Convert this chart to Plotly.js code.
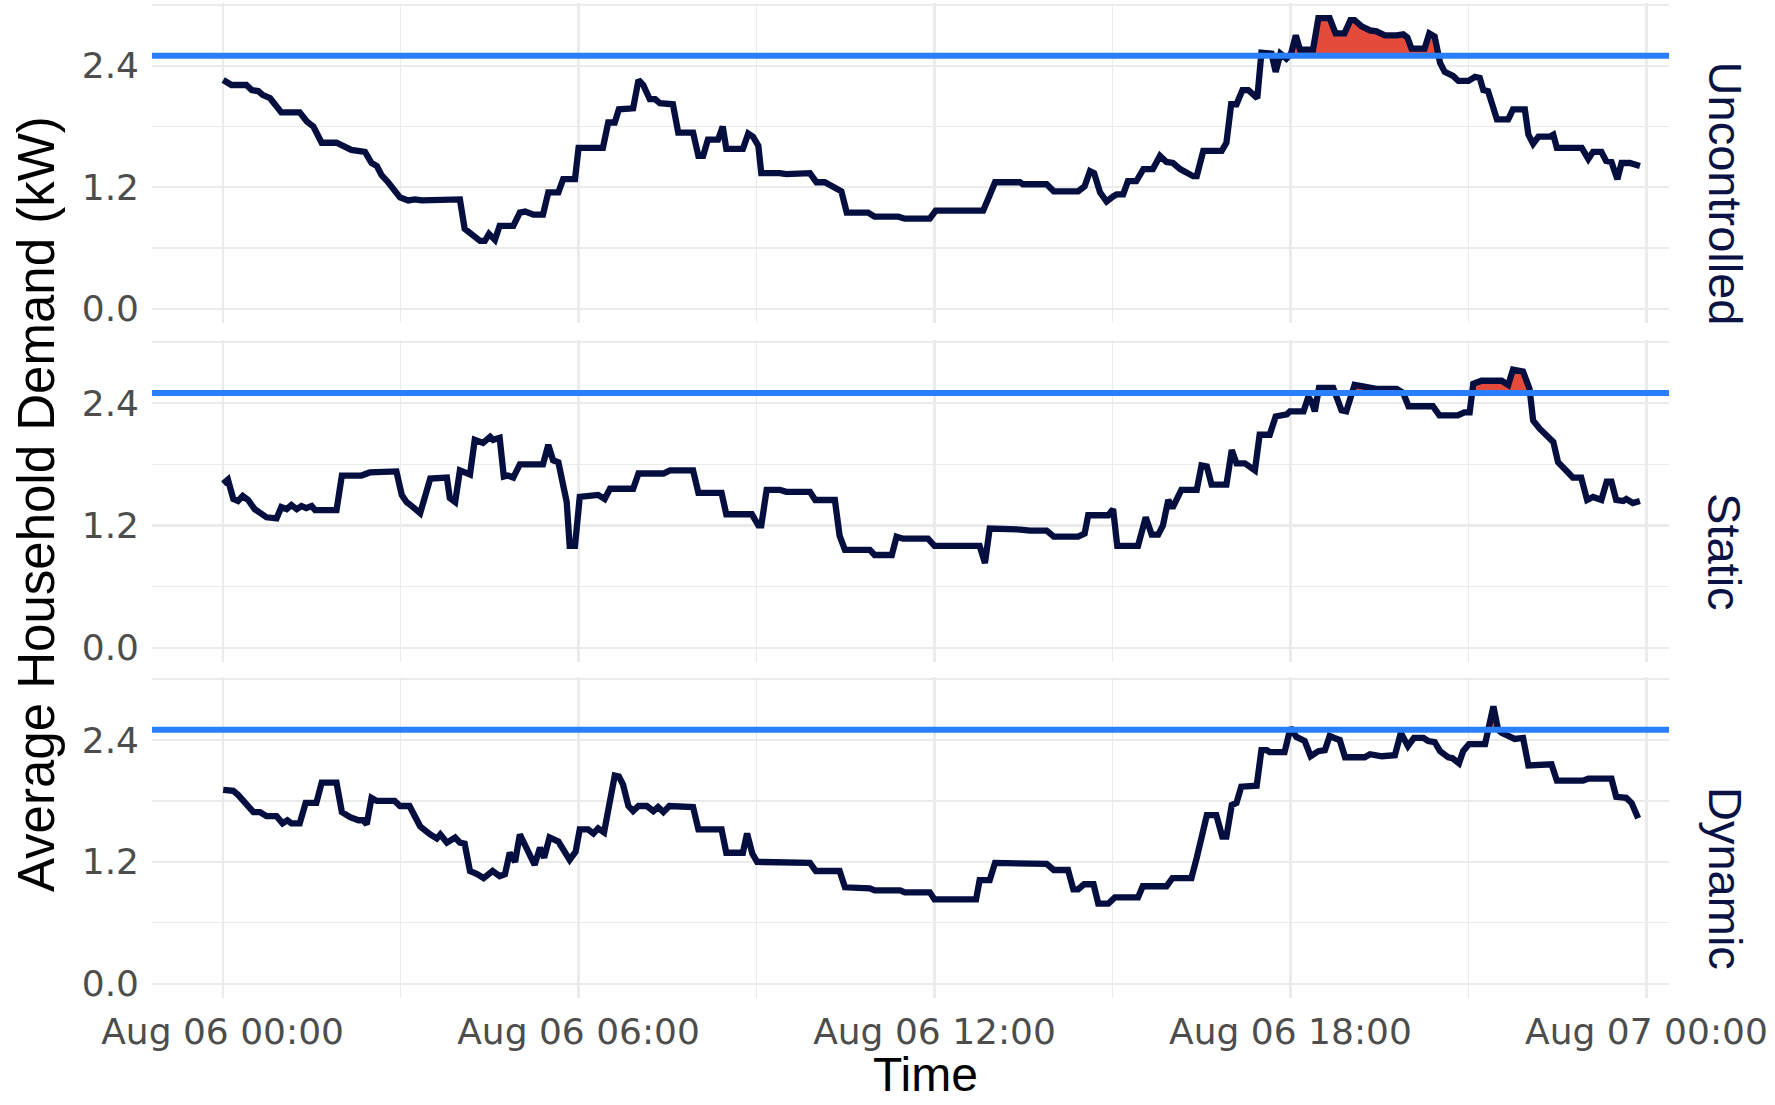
<!DOCTYPE html>
<html>
<head>
<meta charset="utf-8">
<script src="https://cdn.plot.ly/plotly-3.0.1.min.js"></script>
<style>
  html, body { margin: 0; padding: 0; background: #ffffff; }
  #chart { width: 1775px; height: 1105px; }
</style>
</head>
<body>
<div id="chart"></div>
<script>
// Network capacity limit per household (kW)
const threshold = 2.5;

// Facet names, top to bottom
const scenarios = ['Uncontrolled', 'Static', 'Dynamic'];

// Hour of day (Aug 06) and average household demand (kW) for each scenario
const hoursUncontrolled = [0.01,0.15,0.40,0.49,0.60,0.68,0.80,0.88,0.99,1.30,1.42,1.53,1.67,1.92,2.17,2.40,2.51,2.60,2.68,2.79,2.99,3.13,3.24,3.36,3.50,4.00,4.08,4.20,4.34,4.42,4.49,4.59,4.67,4.90,5.01,5.10,5.24,5.40,5.49,5.66,5.74,5.94,6.00,6.41,6.50,6.61,6.68,6.92,7.01,7.09,7.20,7.29,7.37,7.59,7.68,7.93,8.02,8.10,8.18,8.35,8.43,8.49,8.77,8.86,8.94,9.03,9.08,9.39,9.50,9.90,10.01,10.15,10.29,10.43,10.52,10.88,10.99,11.39,11.50,11.92,12.02,12.82,12.90,13.02,13.44,13.49,13.89,14.01,14.42,14.53,14.62,14.69,14.79,14.90,15.01,15.07,15.18,15.26,15.40,15.52,15.68,15.80,15.91,16.02,16.14,16.36,16.42,16.53,16.84,16.92,17.00,17.09,17.19,17.29,17.44,17.51,17.68,17.75,17.83,17.93,18.01,18.09,18.16,18.38,18.47,18.66,18.76,18.91,19.01,19.08,19.20,19.34,19.45,19.59,19.79,19.90,19.97,20.04,20.26,20.34,20.43,20.52,20.60,20.74,20.83,21.00,21.11,21.19,21.25,21.33,21.48,21.67,21.75,21.95,22.01,22.09,22.18,22.37,22.43,22.49,22.91,23.02,23.10,23.24,23.32,23.41,23.51,23.58,23.72,23.80,23.89];
const demandUncontrolled = [2.26,2.21,2.21,2.16,2.15,2.11,2.08,2.02,1.94,1.94,1.85,1.80,1.64,1.64,1.57,1.55,1.44,1.41,1.32,1.25,1.10,1.07,1.08,1.07,1.07,1.08,0.79,0.74,0.67,0.67,0.74,0.68,0.82,0.82,0.95,0.96,0.93,0.93,1.15,1.15,1.28,1.28,1.59,1.59,1.84,1.84,1.97,1.98,2.26,2.21,2.07,2.07,2.03,2.02,1.74,1.74,1.51,1.51,1.67,1.67,1.80,1.58,1.58,1.73,1.70,1.61,1.34,1.34,1.33,1.34,1.25,1.25,1.20,1.16,0.95,0.95,0.91,0.91,0.89,0.89,0.97,0.97,1.08,1.25,1.25,1.23,1.23,1.16,1.16,1.21,1.36,1.34,1.15,1.06,1.11,1.13,1.13,1.26,1.26,1.38,1.38,1.51,1.45,1.44,1.38,1.31,1.31,1.56,1.56,1.64,2.02,2.02,2.16,2.16,2.08,2.53,2.52,2.34,2.52,2.47,2.52,2.70,2.56,2.56,2.87,2.87,2.72,2.72,2.85,2.85,2.79,2.75,2.74,2.70,2.70,2.71,2.68,2.57,2.57,2.72,2.69,2.43,2.34,2.30,2.25,2.25,2.29,2.28,2.16,2.15,1.87,1.87,1.97,1.97,1.72,1.63,1.70,1.70,1.72,1.59,1.59,1.48,1.55,1.55,1.46,1.45,1.28,1.44,1.44,1.42,1.41];

const hoursStatic = [0.01,0.09,0.18,0.26,0.34,0.43,0.54,0.66,0.74,0.91,0.99,1.08,1.16,1.25,1.33,1.41,1.50,1.56,1.92,2.01,2.34,2.48,2.93,3.02,3.10,3.21,3.33,3.50,3.78,3.83,3.92,4.00,4.17,4.25,4.39,4.51,4.56,4.67,4.74,4.81,4.90,5.01,5.40,5.49,5.57,5.66,5.80,5.85,5.94,6.02,6.33,6.44,6.53,6.92,7.01,7.43,7.54,7.93,8.02,8.41,8.49,8.92,9.03,9.08,9.17,9.39,9.50,9.90,9.99,10.32,10.40,10.49,10.91,10.99,11.28,11.36,11.47,11.89,12.00,12.43,12.76,12.85,12.93,13.44,13.61,13.89,14.01,14.42,14.53,14.59,14.93,15.01,15.08,15.43,15.56,15.66,15.77,15.85,15.94,16.01,16.16,16.42,16.50,16.59,16.67,16.92,17.01,17.09,17.23,17.40,17.48,17.65,17.75,17.94,17.99,18.22,18.30,18.36,18.41,18.48,18.72,18.86,18.94,19.08,19.28,19.45,19.79,19.90,19.99,20.40,20.51,20.82,20.93,21.02,21.08,21.22,21.56,21.67,21.75,21.92,22.03,22.09,22.20,22.31,22.43,22.51,22.60,22.76,22.90,23.00,23.10,23.24,23.33,23.41,23.49,23.61,23.66,23.77,23.89];
const demandStatic = [1.61,1.65,1.46,1.44,1.49,1.45,1.36,1.31,1.28,1.27,1.38,1.36,1.40,1.36,1.39,1.37,1.39,1.35,1.35,1.69,1.69,1.72,1.73,1.50,1.43,1.38,1.32,1.66,1.67,1.47,1.43,1.74,1.70,2.04,2.01,2.07,2.04,2.06,1.68,1.69,1.67,1.80,1.80,1.99,1.84,1.82,1.43,1.00,1.00,1.48,1.50,1.46,1.56,1.56,1.71,1.71,1.74,1.74,1.52,1.52,1.31,1.31,1.20,1.20,1.55,1.55,1.53,1.53,1.45,1.45,1.10,0.96,0.96,0.91,0.91,1.09,1.07,1.07,1.00,1.00,1.00,0.83,1.17,1.16,1.15,1.15,1.09,1.09,1.12,1.30,1.30,1.36,1.00,1.00,1.28,1.11,1.11,1.20,1.45,1.37,1.55,1.55,1.79,1.78,1.60,1.60,1.94,1.81,1.81,1.74,2.09,2.09,2.27,2.29,2.32,2.32,2.46,2.41,2.32,2.55,2.55,2.33,2.32,2.58,2.56,2.54,2.54,2.50,2.37,2.37,2.28,2.28,2.31,2.31,2.59,2.62,2.62,2.58,2.73,2.71,2.54,2.23,2.15,2.09,2.02,1.82,1.77,1.67,1.67,1.45,1.48,1.45,1.63,1.63,1.45,1.44,1.46,1.42,1.44];

const hoursDynamic = [0.01,0.18,0.26,0.35,0.43,0.52,0.63,0.74,0.91,1.01,1.09,1.16,1.30,1.40,1.58,1.67,1.92,2.01,2.15,2.29,2.37,2.43,2.51,2.60,2.90,2.99,3.15,3.33,3.50,3.61,3.67,3.78,3.92,4.00,4.08,4.17,4.29,4.40,4.55,4.67,4.76,4.84,4.93,5.01,5.26,5.35,5.42,5.51,5.66,5.85,5.95,6.02,6.16,6.25,6.33,6.43,6.61,6.68,6.75,6.84,6.92,7.01,7.15,7.26,7.34,7.43,7.53,7.93,8.02,8.41,8.49,8.77,8.84,8.93,9.01,9.39,9.45,9.90,10.00,10.40,10.49,10.91,10.99,11.42,11.50,11.92,12.00,12.43,12.70,12.76,12.93,13.02,13.41,13.49,13.89,14.01,14.25,14.34,14.42,14.52,14.68,14.76,14.93,15.04,15.43,15.51,15.91,16.01,16.33,16.42,16.59,16.75,16.85,16.92,17.01,17.09,17.17,17.43,17.51,17.60,17.65,17.90,18.00,18.10,18.24,18.34,18.47,18.58,18.66,18.74,18.83,18.92,19.25,19.34,19.45,19.54,19.76,19.86,19.98,20.08,20.24,20.32,20.43,20.52,20.59,20.66,20.73,20.84,20.91,21.01,21.28,21.33,21.42,21.50,21.56,21.67,21.78,21.92,22.01,22.40,22.49,22.93,23.02,23.41,23.49,23.66,23.75,23.86];
const demandDynamic = [1.91,1.90,1.86,1.80,1.77,1.69,1.69,1.65,1.65,1.58,1.61,1.58,1.58,1.78,1.78,1.98,1.98,1.69,1.64,1.61,1.61,1.57,1.83,1.80,1.80,1.75,1.75,1.55,1.47,1.43,1.47,1.39,1.44,1.39,1.38,1.11,1.08,1.04,1.11,1.06,1.08,1.29,1.20,1.47,1.17,1.34,1.24,1.44,1.40,1.22,1.30,1.52,1.52,1.48,1.53,1.49,2.05,2.04,1.96,1.75,1.70,1.75,1.75,1.70,1.74,1.69,1.75,1.74,1.52,1.52,1.29,1.29,1.48,1.28,1.20,1.20,1.19,1.19,1.11,1.11,0.95,0.94,0.92,0.92,0.90,0.90,0.83,0.83,0.83,1.02,1.02,1.19,1.19,1.18,1.18,1.12,1.12,0.93,0.93,0.98,0.98,0.79,0.79,0.85,0.85,0.96,0.96,1.04,1.04,1.24,1.66,1.66,1.45,1.45,1.76,1.78,1.94,1.95,2.30,2.30,2.28,2.28,2.52,2.43,2.39,2.24,2.29,2.30,2.44,2.42,2.40,2.23,2.23,2.26,2.25,2.24,2.25,2.47,2.34,2.42,2.42,2.39,2.38,2.29,2.26,2.23,2.22,2.17,2.29,2.36,2.36,2.50,2.73,2.50,2.47,2.44,2.41,2.42,2.15,2.16,2.00,2.00,2.02,2.02,1.84,1.83,1.78,1.63];

// Axis ticks
const xTickHours = [0, 6, 12, 18, 24];
const yTickValues = [0, 1.2, 2.4];

const series = [
  { hours: hoursUncontrolled, demand: demandUncontrolled },
  { hours: hoursStatic, demand: demandStatic },
  { hours: hoursDynamic, demand: demandDynamic }
];

const dayStart = Date.UTC(2021, 7, 6);
function toTime(h) {
  return new Date(dayStart + h * 3600000).toISOString().replace('T', ' ').replace('Z', '');
}

const lineColor = '#040F40';
const limitColor = '#2A7FFF';
const excessColor = '#E54B3B';
const gridColor = '#EBEBEB';

const domains = [[0.6784, 1.0], [0.3377, 0.6613], [0.0, 0.3226]];
const stripY = [0.8085, 0.4482, 0.1196];

const traces = [];
const shapes = [];
const annotations = [];
const layout = {
  width: 1775,
  height: 1105,
  margin: { l: 152, r: 106, t: 3, b: 107 },
  paper_bgcolor: '#ffffff',
  plot_bgcolor: '#ffffff',
  showlegend: false,
  font: { family: 'Liberation Sans, Arial, sans-serif', color: '#000000' }
};

series.forEach((s, i) => {
  const sfx = i === 0 ? '' : String(i + 1);
  const xa = 'x' + sfx, ya = 'y' + sfx;
  const times = s.hours.map(toTime);

  // Lower edge of the excess band sits on the capacity limit
  traces.push({
    type: 'scatter', mode: 'lines', x: times,
    y: s.hours.map(() => threshold),
    line: { width: 0, color: excessColor },
    xaxis: xa, yaxis: ya, hoverinfo: 'skip'
  });
  // Demand above the limit, shaded red
  traces.push({
    type: 'scatter', mode: 'lines', x: times,
    y: s.demand.map(v => Math.max(v, threshold)),
    fill: 'tonexty', fillcolor: excessColor,
    line: { width: 0, color: excessColor },
    xaxis: xa, yaxis: ya, hoverinfo: 'skip'
  });
  // Demand profile
  traces.push({
    type: 'scatter', mode: 'lines', x: times, y: s.demand,
    line: { width: 6.3, color: lineColor, shape: 'linear' },
    xaxis: xa, yaxis: ya, name: scenarios[i]
  });

  // Capacity limit
  shapes.push({
    type: 'line', xref: xa + ' domain', yref: ya,
    x0: 0, x1: 1, y0: threshold, y1: threshold,
    line: { color: limitColor, width: 6 }, layer: 'above'
  });

  layout['xaxis' + sfx] = {
    domain: [0, 1], anchor: ya, type: 'date',
    range: [toTime(-1.19), toTime(24.38)],
    tickvals: xTickHours.map(toTime),
    tickformat: '%b %d %H:%M',
    showticklabels: i === 2,
    ticks: '', showline: false, zeroline: false,
    showgrid: true, gridcolor: gridColor, gridwidth: 2.2,
    minor: { dtick: 3 * 3600000, tick0: toTime(0), showgrid: true, gridcolor: gridColor, gridwidth: 1.2 },
    tickfont: { family: 'DejaVu Sans, sans-serif', size: 36, color: '#4D4D4D' },
    ticklabelstandoff: 9
  };
  if (i !== 2) layout['xaxis' + sfx].matches = 'x3';

  layout['yaxis' + sfx] = {
    domain: domains[i], anchor: xa,
    range: [-0.14, 3.02],
    tickvals: yTickValues,
    ticktext: yTickValues.map(v => v.toFixed(1)),
    ticks: '', showline: false, zeroline: false,
    showgrid: true, gridcolor: gridColor, gridwidth: 2.2,
    minor: { tickvals: [0.6, 1.8, 3.0], showgrid: true, gridcolor: gridColor, gridwidth: 1.2 },
    tickfont: { family: 'DejaVu Sans, sans-serif', size: 36, color: '#4D4D4D' },
    ticklabelstandoff: 12
  };

  // Facet strip label
  annotations.push({
    xref: 'paper', yref: 'paper', x: 1.0369, y: stripY[i],
    xanchor: 'center', yanchor: 'middle', textangle: 90, showarrow: false,
    text: scenarios[i],
    font: { family: 'Liberation Sans, Arial, sans-serif', size: 47, color: '#0A1344' }
  });
});

annotations.push({
  xref: 'paper', yref: 'paper', x: -0.0758, y: 0.4965,
  xanchor: 'center', yanchor: 'middle', textangle: -90, showarrow: false,
  text: 'Average Household Demand (kW)',
  font: { family: 'Liberation Sans, Arial, sans-serif', size: 51, color: '#000000' }
});
annotations.push({
  xref: 'paper', yref: 'paper', x: 0.5096, y: -0.1055,
  xanchor: 'center', yanchor: 'bottom', showarrow: false,
  text: 'Time',
  font: { family: 'Liberation Sans, Arial, sans-serif', size: 48, color: '#000000' }
});

layout.shapes = shapes;
layout.annotations = annotations;

Plotly.newPlot('chart', traces, layout, { displayModeBar: false, staticPlot: true });
</script>
</body>
</html>
